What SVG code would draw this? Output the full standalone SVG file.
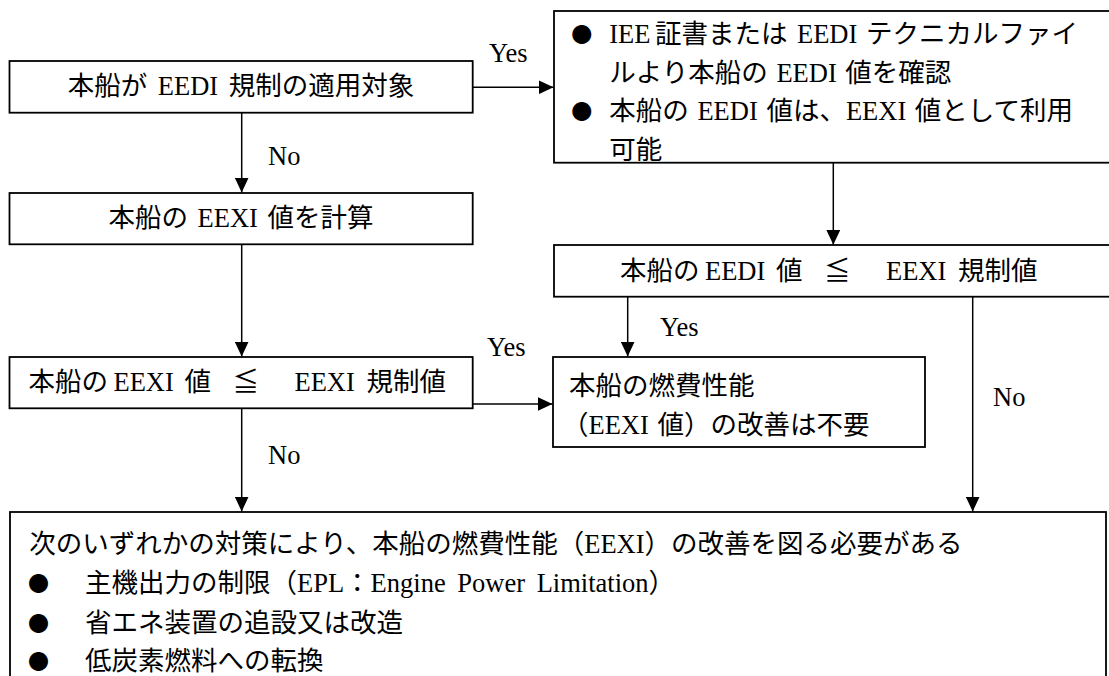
<svg xmlns="http://www.w3.org/2000/svg" width="1109" height="676" viewBox="0 0 1109 676">
<style>
  .box { fill: #fff; stroke: #000; stroke-width: 1.8; }
  .ln { fill: none; stroke: #000; stroke-width: 1.5; }
  text { font-family: "Liberation Serif", "Noto Sans CJK JP", serif; font-size: 26.5px; fill: #000; }
  .mid { text-anchor: middle; }
  .bul { font-family: "Noto Sans CJK JP", sans-serif; font-size: 21px; text-anchor: middle; }
  .ws { word-spacing: 2px; }
</style>
<defs>
  <marker id="arr" markerUnits="userSpaceOnUse" markerWidth="15" markerHeight="14" viewBox="0 0 15 14" refX="15" refY="7" orient="auto">
    <path d="M0,0 L15,7 L0,14 z" fill="#000"/>
  </marker>
</defs>
<rect width="1109" height="676" fill="#fff"/>

<g id="connectors">
  <line class="ln" x1="472.7" y1="87.3" x2="553.5" y2="87.3" marker-end="url(#arr)"/>
  <line class="ln" x1="241.7" y1="112.7" x2="241.7" y2="192.5" marker-end="url(#arr)"/>
  <line class="ln" x1="241.7" y1="244.3" x2="241.7" y2="356.5" marker-end="url(#arr)"/>
  <line class="ln" x1="833.3" y1="162.7" x2="833.3" y2="244.8" marker-end="url(#arr)"/>
  <line class="ln" x1="472.7" y1="404" x2="552.5" y2="404" marker-end="url(#arr)"/>
  <line class="ln" x1="627.7" y1="296.7" x2="627.7" y2="356.5" marker-end="url(#arr)"/>
  <line class="ln" x1="972.7" y1="296.7" x2="972.7" y2="511.5" marker-end="url(#arr)"/>
  <line class="ln" x1="241.7" y1="408.3" x2="241.7" y2="511.5" marker-end="url(#arr)"/>
  <text x="489" y="62">Yes</text>
  <text x="268" y="165">No</text>
  <text x="487" y="356">Yes</text>
  <text x="660" y="336">Yes</text>
  <text x="268" y="464">No</text>
  <text x="993" y="406">No</text>
</g>

<g id="n1">
  <rect class="box" x="9.5" y="61" width="463.2" height="51.7"/>
  <text class="mid" x="241" y="95" style="word-spacing:4px">本船が EEDI 規制の適用対象</text>
</g>

<g id="n2">
  <rect class="box" x="554" y="11" width="570" height="151.7"/>
  <text class="bul" x="581.7" y="42">●</text>
  <text x="609.3" y="43">IEE <tspan x="655">証書または</tspan> <tspan x="797">EEDI</tspan> <tspan x="866">テクニカルファイ</tspan></text>
  <text class="ws" x="609.3" y="81.5">ルより本船の EEDI 値を確認</text>
  <text class="bul" x="581.7" y="119">●</text>
  <text class="ws" x="609.3" y="120">本船の EEDI 値は、EEXI 値として利用</text>
  <text x="609.3" y="158.5">可能</text>
</g>

<g id="n3">
  <rect class="box" x="9.5" y="193" width="463.2" height="51.3"/>
  <text class="mid" x="241" y="226.6" style="word-spacing:3px">本船の EEXI 値を計算</text>
</g>

<g id="n6">
  <rect class="box" x="554" y="245" width="570" height="51.7"/>
  <text y="280"><tspan x="620">本船の</tspan> <tspan x="705">EEDI</tspan> <tspan x="776">値</tspan> <tspan x="824">≦</tspan> <tspan x="886">EEXI</tspan> <tspan x="958">規制値</tspan></text>
</g>

<g id="n4">
  <rect class="box" x="9.5" y="357" width="463.2" height="51.3"/>
  <text y="391"><tspan x="28.5">本船の</tspan> <tspan x="113.5">EEXI</tspan> <tspan x="184.5">値</tspan> <tspan x="232.5">≦</tspan> <tspan x="294.5">EEXI</tspan> <tspan x="366.5">規制値</tspan></text>
</g>

<g id="n5">
  <rect class="box" x="553" y="357" width="372" height="90"/>
  <text x="569" y="395">本船の燃費性能</text>
  <text class="ws" x="562" y="433.5">（EEXI 値）の改善は不要</text>
</g>

<g id="n7">
  <rect class="box" x="10" y="512" width="1096" height="200"/>
  <text x="29.3" y="552.5">次のいずれかの対策により、本船の燃費性能（EEXI）の改善を図る必要がある</text>
  <text class="bul" x="38.5" y="591">●</text>
  <text x="85" y="592" style="word-spacing:5px">主機出力の制限（EPL：Engine Power Limitation）</text>
  <text class="bul" x="38.5" y="630.5">●</text>
  <text x="85" y="631.5">省エネ装置の追設又は改造</text>
  <text class="bul" x="38.5" y="669">●</text>
  <text x="85" y="670">低炭素燃料への転換</text>
</g>
</svg>
